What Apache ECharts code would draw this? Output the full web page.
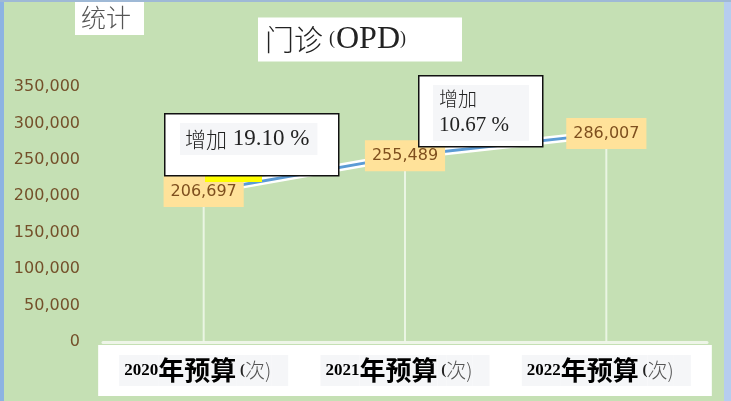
<!DOCTYPE html>
<html><head><meta charset="utf-8">
<script src="https://cdn.jsdelivr.net/npm/echarts@6/dist/echarts.min.js"></script>
<style>html,body{margin:0;padding:0;background:#C5E0B4;}#c{width:731px;height:401px;}</style>
</head><body><div id="c"></div>
<script>
const categories = ['2020年预算 (次)', '2021年预算 (次)', '2022年预算 (次)'];
const opdValues = [206697, 255489, 286007];
const yTicks = { min: 0, max: 350000, interval: 50000 };
const growthNotes = ['增加 19.10 %', '增加\n10.67 %'];
const titleText = '门诊';
const statText = '统计';

const fmt = v => Number(v).toLocaleString('en-US');
const chart = echarts.init(document.getElementById('c'), null, {renderer: 'canvas'});
const segBg = '#F5F6F8';
chart.setOption({
  animation: false,
  backgroundColor: '#C5E0B4',
  title: [
    {
      text: '{a|' + titleText + '}{l|(}{c|OPD}{r|)}',
      left: 258, top: 17,
      backgroundColor: '#FFFFFF',
      padding: [6, 56, 6, 7],
      textStyle: {
        fontWeight: 'normal',
        rich: {
          a: {fontFamily: 'Noto Sans CJK SC', fontWeight: 300, fontSize: 29, color: '#222', height: 33, verticalAlign: 'bottom'},
          l: {fontFamily: 'Liberation Serif', fontWeight: 'normal', fontSize: 18, color: '#222', height: 33, verticalAlign: 'bottom', padding: [0, 1, 0, 6]},
          r: {fontFamily: 'Liberation Serif', fontWeight: 'normal', fontSize: 18, color: '#222', height: 33, verticalAlign: 'bottom'},
          c: {fontFamily: 'Liberation Serif', fontWeight: 'normal', fontSize: 32, color: '#222', height: 33, verticalAlign: 'bottom'}
        }
      }
    },
    {
      text: statText,
      left: 75, top: 0,
      backgroundColor: '#FFFFFF',
      padding: [5, 13, 5, 6],
      textStyle: {fontFamily: 'Noto Sans CJK SC', fontWeight: 300, fontSize: 25, color: '#555', lineHeight: 25}
    }
  ],
  grid: {left: 103, right: 24, top: 87, bottom: 59, containLabel: false},
  xAxis: {
    type: 'category',
    data: categories,
    boundaryGap: true,
    axisLine: {show: true, lineStyle: {color: '#EEF5E8', width: 3}},
    axisTick: {show: false},
    splitLine: {show: false},
    axisLabel: {
      interval: 0,
      margin: 3,
      backgroundColor: '#FFFFFF',
      padding: [10, 18, 10, 18],
      width: 175,
      align: 'center',
      formatter: function (v) {
        const m = v.match(/^(\d+)(年预算)\s*\((.*)$/);
        return '{a|' + m[1] + '}{b|' + m[2] + '}{c| (}{d|' + m[3] + '}{e| }';
      },
      rich: {
        a: {fontFamily: 'Liberation Serif', fontWeight: 'bold', fontSize: 17, color: '#000', backgroundColor: segBg, height: 31, verticalAlign: 'bottom', padding: [0, 0, 0, 5]},
        b: {fontFamily: 'Noto Sans CJK SC', fontWeight: 'bold', fontSize: 26, color: '#000', backgroundColor: segBg, height: 31, verticalAlign: 'bottom'},
        c: {fontFamily: 'Liberation Serif', fontWeight: 'bold', fontSize: 15, color: '#222', backgroundColor: segBg, height: 31, verticalAlign: 'bottom'},
        d: {fontFamily: 'Noto Sans CJK SC', fontWeight: 300, fontSize: 20, color: '#555', backgroundColor: segBg, height: 31, verticalAlign: 'bottom'},
        e: {fontSize: 14, backgroundColor: segBg, height: 31, width: 17}
      }
    }
  },
  yAxis: {
    type: 'value',
    min: yTicks.min, max: yTicks.max, interval: yTicks.interval,
    axisLine: {show: false},
    axisTick: {show: false},
    splitLine: {show: false},
    axisLabel: {
      margin: 23,
      color: '#74502A',
      fontFamily: 'DejaVu Sans',
      fontSize: 16,
      formatter: v => fmt(v)
    }
  },
  series: [
    {
      type: 'bar',
      data: opdValues,
      barWidth: 2,
      itemStyle: {color: 'rgba(240,248,235,0.85)'},
      z: 1,
      silent: true
    },
    {
      type: 'line',
      data: opdValues,
      symbol: 'none',
      lineStyle: {color: '#FFFFFF', width: 8},
      z: 2,
      silent: true
    },
    {
      type: 'line',
      data: opdValues,
      symbol: 'circle',
      symbolSize: 2,
      itemStyle: {color: '#5B9BD5'},
      lineStyle: {color: '#5B9BD5', width: 3},
      z: 3,
      label: {
        show: true,
        position: 'inside',
        formatter: p => fmt(p.value),
        backgroundColor: '#FFE29A',
        color: '#7E4F1E',
        fontFamily: 'DejaVu Sans',
        fontSize: 16,
        lineHeight: 17,
        padding: [7, 7, 7, 7]
      }
    }
  ],
  graphic: [
    {type: 'rect', left: 0, top: 0, shape: {width: 4, height: 401}, style: {fill: '#8DB3E2'}, z: 10},
    {type: 'rect', left: 724, top: 0, shape: {width: 7, height: 401}, style: {fill: '#B6CDEF'}, z: 10},
    {type: 'rect', left: 0, top: 0, shape: {width: 731, height: 2}, style: {fill: '#9FB9D6'}, z: 10},
    {type: 'rect', left: 205, top: 175, shape: {width: 57, height: 7}, style: {fill: '#FFFF00'}, z: 20},
    {type: 'rect', left: 164, top: 113, shape: {width: 174, height: 62}, style: {fill: '#FFFFFF', stroke: '#111', lineWidth: 1.5}, z: 30},
    {
      type: 'text', left: 180, top: 123, z: 31,
      style: {
        text: '{z|' + growthNotes[0].split(' ')[0] + '}{n| ' + growthNotes[0].split(' ').slice(1).join(' ') + '}',
        backgroundColor: segBg,
        padding: [4, 8, 4, 5],
        rich: {
          z: {fontFamily: 'Noto Sans CJK SC', fontWeight: 300, fontSize: 21, fill: '#222', height: 24},
          n: {fontFamily: 'Liberation Serif', fontSize: 23, fill: '#222', height: 24}
        }
      }
    },
    {type: 'rect', left: 418, top: 75, shape: {width: 124, height: 71}, style: {fill: '#FFFFFF', stroke: '#111', lineWidth: 1.5}, z: 30},
    {
      type: 'text', left: 433, top: 85, z: 31,
      style: {
        text: '{z|' + growthNotes[1].split('\n')[0] + '}\n{n|' + growthNotes[1].split('\n')[1] + '}',
        backgroundColor: segBg,
        padding: [0, 20, 2, 6],
        rich: {
          z: {fontFamily: 'Noto Sans CJK SC', fontWeight: 300, fontSize: 19, fill: '#222', lineHeight: 27, height: 27},
          n: {fontFamily: 'Liberation Serif', fontSize: 21, fill: '#222', lineHeight: 27, height: 27}
        }
      }
    }
  ]
});
</script></body></html>
